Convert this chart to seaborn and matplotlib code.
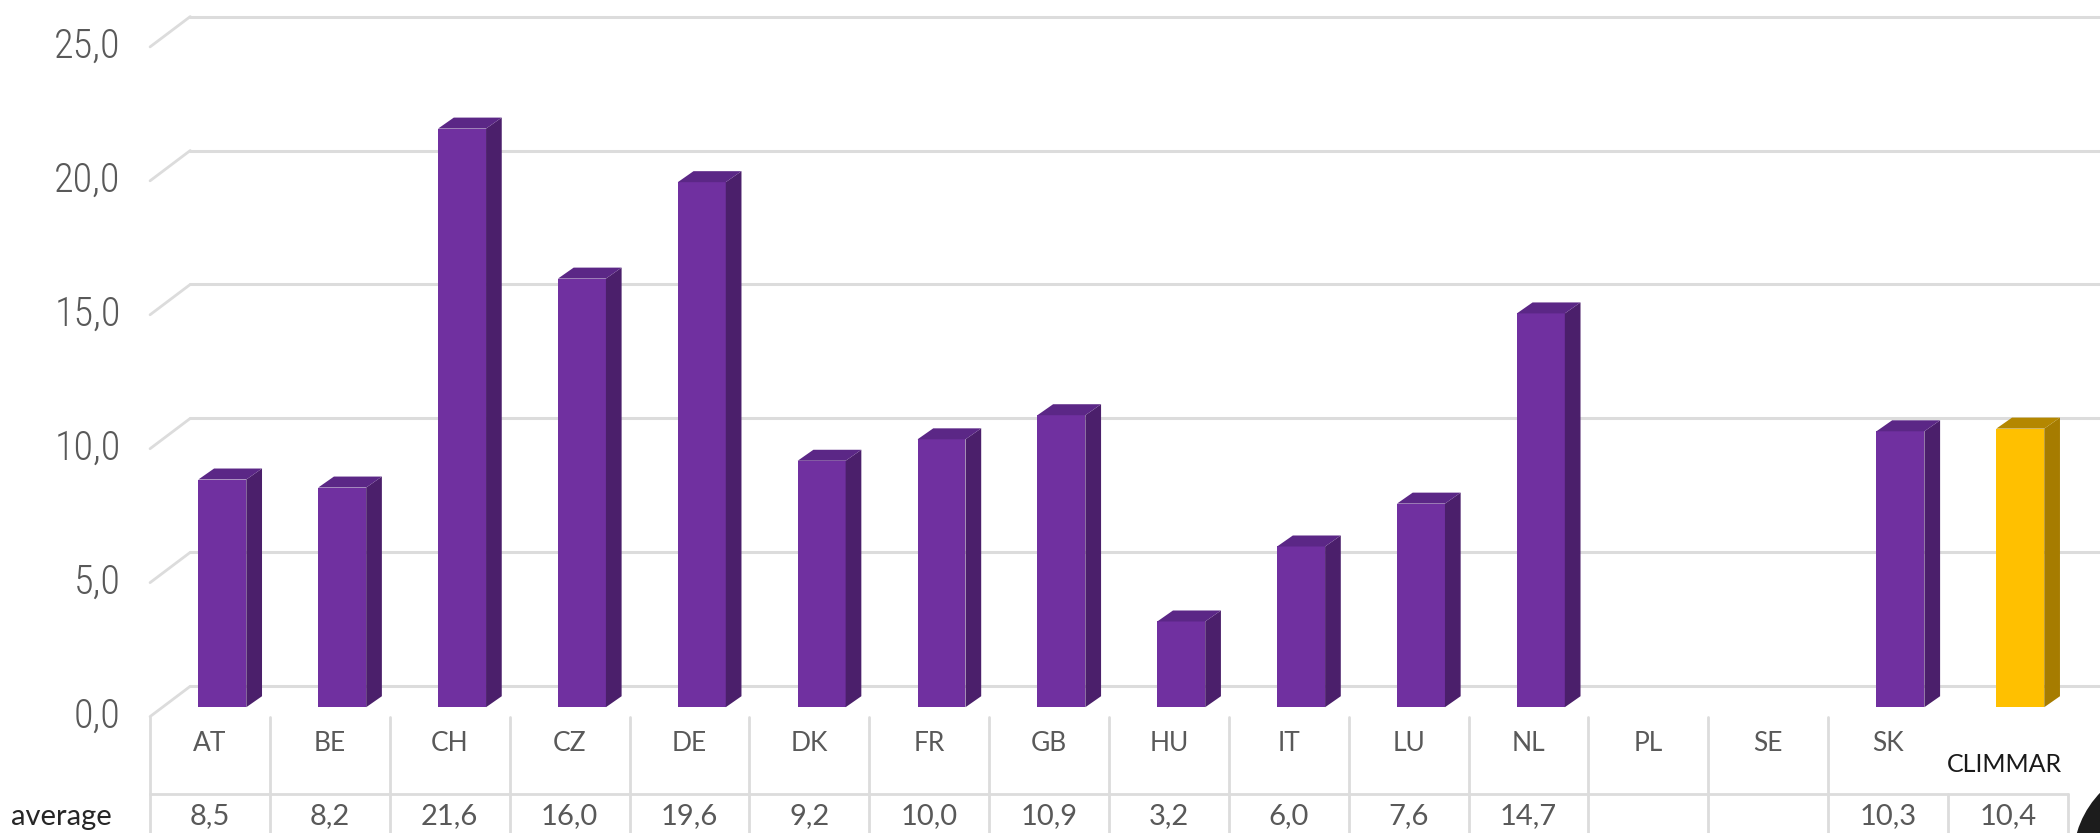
import numpy as np
import pandas as pd
import matplotlib
matplotlib.use("Agg")
import matplotlib.pyplot as plt
import seaborn as sns
from matplotlib.patches import Polygon, Ellipse

# data
countries = ["AT", "BE", "CH", "CZ", "DE", "DK", "FR", "GB", "HU", "IT",
             "LU", "NL", "PL", "SE", "SK", "CLIMMAR"]
average = [8.5, 8.2, 21.6, 16.0, 19.6, 9.2, 10.0, 10.9, 3.2, 6.0,
           7.6, 14.7, np.nan, np.nan, 10.3, 10.4]
y_ticks = [0, 5, 10, 15, 20, 25]
row_label = "average"

# colours: front, side, top
PURPLE = ("#7030A0", "#4B1F6B", "#5B2786")
GOLD = ("#FFC000", "#A67C00", "#B48700")
GRID = "#dcdcdc"
TXT = "#595959"
TABLE_FONT = ["Lato", "DejaVu Sans"]

# fake 3d geometry (data units)
BAR_DX, BAR_DY = 0.131, 0.41        # depth of one bar
FRONT_X, FRONT_DY = -0.603, -0.35   # table front edge relative to bar plane
BACK_X, BACK_DY = -0.268, 0.78      # back wall

sns.set_theme(style="white")
plt.rcParams["font.family"] = ["Roboto Condensed", "Roboto", "DejaVu Sans"]
plt.rcParams["font.weight"] = "light"

fig = plt.figure(figsize=(21, 8.33), dpi=100)
ax = fig.add_axes([0, 0, 1, 1])

df = pd.DataFrame({"country": countries, "average": average}).dropna()
palette = {c: (GOLD[0] if c == "CLIMMAR" else PURPLE[0]) for c in countries}
sns.barplot(data=df, x="country", y="average", hue="country", order=countries,
            hue_order=countries, palette=palette, width=0.4, linewidth=0,
            saturation=1, legend=False, ax=ax)

# side and top faces built from the seaborn bars
for p in list(ax.patches):
    h = p.get_height()
    if not np.isfinite(h) or h == 0:
        continue
    x0 = p.get_x()
    x1 = x0 + p.get_width()
    cols = GOLD if p.get_facecolor()[0] > 0.9 else PURPLE
    p.set_zorder(3)
    side = Polygon([(x1, 0), (x1 + BAR_DX, BAR_DY), (x1 + BAR_DX, h + BAR_DY), (x1, h)],
                   closed=True, facecolor=cols[1], edgecolor="none", zorder=3)
    top = Polygon([(x0, h), (x0 + BAR_DX, h + BAR_DY), (x1 + BAR_DX, h + BAR_DY), (x1, h)],
                  closed=True, facecolor=cols[2], edgecolor="none", zorder=3)
    ax.add_patch(side)
    ax.add_patch(top)

# gridlines on the back wall + floor diagonals
for v in y_ticks:
    ax.plot([FRONT_X, BACK_X], [v + FRONT_DY, v + BACK_DY], color=GRID, lw=2, zorder=1)
    ax.plot([BACK_X, 17], [v + BACK_DY, v + BACK_DY], color=GRID, lw=2.2, zorder=1)
    ax.text(FRONT_X - 0.246, v + FRONT_DY, f"{v:.1f}".replace(".", ","),
            ha="right", va="center", fontsize=29, color=TXT)

# data table
n = len(countries)
bounds = [i + FRONT_X for i in range(n + 1)]
top_y, mid_y, bot_y = -0.38, -3.25, -5
for i, xb in enumerate(bounds):
    if i <= n - 2:
        ax.plot([xb, xb], [top_y, mid_y], color=GRID, lw=2, zorder=1)
    ax.plot([xb, xb], [mid_y, bot_y], color=GRID, lw=2, zorder=1)
ax.plot([bounds[0], bounds[-1]], [mid_y, mid_y], color=GRID, lw=2, zorder=1)

for i, (c, v) in enumerate(zip(countries, average)):
    xc = i + FRONT_X + 0.5
    if c == "CLIMMAR":
        ax.text(xc - 0.03, -2.13, c, ha="center", va="center", fontsize=18,
                color="#1a1a1a", family=TABLE_FONT, fontweight="normal")
    else:
        ax.text(xc, -1.37, c, ha="center", va="center", fontsize=19,
                color=TXT, family=TABLE_FONT, fontweight="normal")
    if not np.isnan(v):
        ax.text(xc, -4.36, f"{v:.1f}".replace(".", ","), ha="center",
                va="baseline", fontsize=21, color=TXT, family=TABLE_FONT,
                fontweight="normal")

ax.text(-1.765, -4.40, row_label, ha="left", va="baseline", fontsize=21,
        color="#262626", family=TABLE_FONT, fontweight="normal")

# cut-off logo in the corner
fig.patches.append(Ellipse((2170 / 2100, 1 - 860 / 833), 2 * 97 / 2100, 2 * 97 / 833,
                           transform=fig.transFigure, facecolor="#1c1c1c",
                           edgecolor="none", zorder=5))

ax.set_xlim(-1.855, 15.665)
ax.set_ylim(-4.696, 26.40)
ax.set_xticks([])
ax.set_yticks([])
ax.set_xlabel("")
ax.set_ylabel("")
for s in ax.spines.values():
    s.set_visible(False)

fig.savefig("out.png", dpi=100)
